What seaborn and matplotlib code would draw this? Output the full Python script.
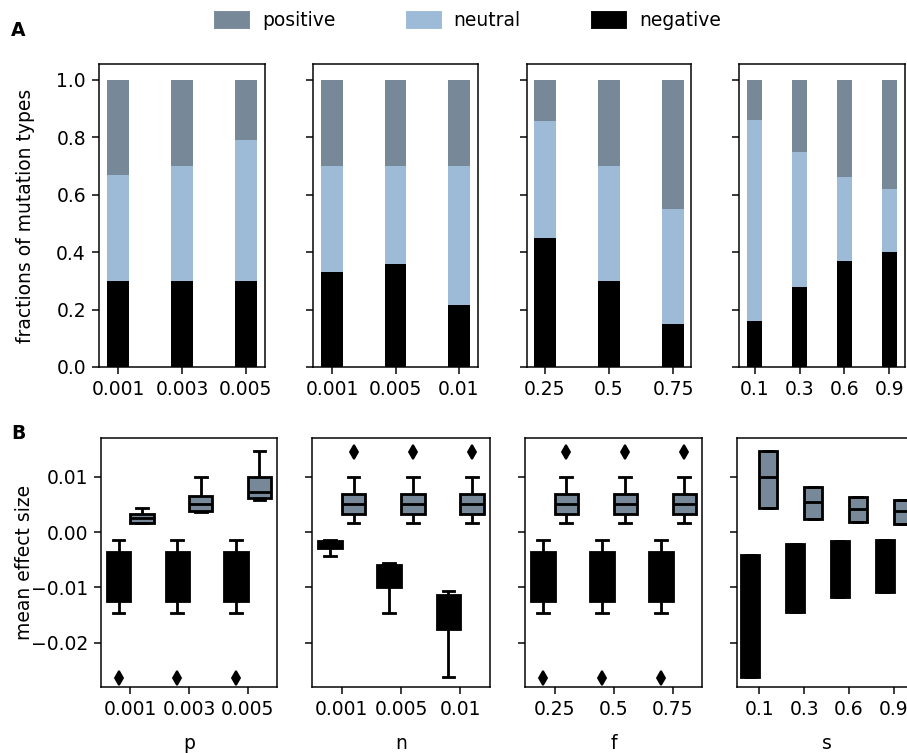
import numpy as np
import pandas as pd
import matplotlib
matplotlib.use("Agg")
import matplotlib.pyplot as plt
from matplotlib.patches import Patch
import seaborn as sns

# ---------------- data: panel A (fractions of mutation types) ----------------
P_LABELS = ["0.001", "0.003", "0.005"]
P_NEGATIVE = [0.30, 0.30, 0.30]
P_NEUTRAL = [0.37, 0.40, 0.49]
P_POSITIVE = [0.33, 0.30, 0.21]

N_LABELS = ["0.001", "0.005", "0.01"]
N_NEGATIVE = [0.33, 0.36, 0.215]
N_NEUTRAL = [0.37, 0.34, 0.485]
N_POSITIVE = [0.30, 0.30, 0.30]

F_LABELS = ["0.25", "0.5", "0.75"]
F_NEGATIVE = [0.45, 0.30, 0.15]
F_NEUTRAL = [0.405, 0.40, 0.40]
F_POSITIVE = [0.145, 0.30, 0.45]

S_LABELS = ["0.1", "0.3", "0.6", "0.9"]
S_NEGATIVE = [0.16, 0.28, 0.37, 0.40]
S_NEUTRAL = [0.70, 0.47, 0.29, 0.22]
S_POSITIVE = [0.14, 0.25, 0.34, 0.38]

# ---------------- data: panel B (mean effect size boxes) ----------------
# five-number summaries per box: (whisker low, Q1, median, Q3, whisker high)
P_NEG_BOX = [(-0.0147, -0.0124, -0.0080, -0.0036, -0.0014)] * 3
P_NEG_OUT = [-0.0264, -0.0264, -0.0264]
P_POS_BOX = [(0.0016, 0.0016, 0.0026, 0.0032, 0.0044),
             (0.0036, 0.0038, 0.0050, 0.0065, 0.0099),
             (0.0058, 0.0062, 0.0073, 0.0099, 0.0147)]
P_POS_OUT = [None, None, None]

N_NEG_BOX = [(-0.0043, -0.0028, -0.0022, -0.0016, -0.0015),
             (-0.0147, -0.0100, -0.0080, -0.0059, -0.0056),
             (-0.0262, -0.0175, -0.0140, -0.0113, -0.0107)]
N_NEG_OUT = [None, None, None]
N_POS_BOX = [(0.0017, 0.0032, 0.0050, 0.0069, 0.0099)] * 3
N_POS_OUT = [0.0145, 0.0145, 0.0145]

F_NEG_BOX = [(-0.0147, -0.0124, -0.0080, -0.0036, -0.0014)] * 3
F_NEG_OUT = [-0.0264, -0.0264, -0.0264]
F_POS_BOX = [(0.0017, 0.0032, 0.0050, 0.0069, 0.0099)] * 3
F_POS_OUT = [0.0145, 0.0145, 0.0145]

S_NEG_BOX = [(-0.0262, -0.0262, -0.0150, -0.0042, -0.0042),
             (-0.0145, -0.0145, -0.0085, -0.0022, -0.0022),
             (-0.0117, -0.0117, -0.0067, -0.0017, -0.0017),
             (-0.0109, -0.0109, -0.0060, -0.0014, -0.0014)]
S_NEG_OUT = [None, None, None, None]
S_POS_BOX = [(0.0044, 0.0044, 0.0099, 0.0147, 0.0147),
             (0.0023, 0.0023, 0.0055, 0.0081, 0.0081),
             (0.0018, 0.0018, 0.0042, 0.0063, 0.0063),
             (0.0015, 0.0015, 0.0038, 0.0058, 0.0058)]
S_POS_OUT = [None, None, None, None]

PARAM_NAMES = ["p", "n", "f", "s"]

COL_POS = "#778899"
COL_NEU = "#9dbbd6"
COL_NEG = "#000000"

plt.rcParams["font.family"] = ["DejaVu Sans"]
plt.rcParams["font.size"] = 10

DPI = 135
fig = plt.figure(figsize=(907 / DPI, 753 / DPI), dpi=DPI)
W, H = 907.0, 753.0


def axes_px(x0, x1, y0, y1):
    return fig.add_axes([x0 / W, 1 - y1 / H, (x1 - x0) / W, (y1 - y0) / H])


# ---------- row A ----------
A_POS = [(99, 265), (313, 478), (527, 691), (739, 905)]
A_TOP, A_BOT = 64, 367
a_data = [
    (P_LABELS, P_NEGATIVE, P_NEUTRAL, P_POSITIVE, 0.30),
    (N_LABELS, N_NEGATIVE, N_NEUTRAL, N_POSITIVE, 0.30),
    (F_LABELS, F_NEGATIVE, F_NEUTRAL, F_POSITIVE, 0.28),
    (S_LABELS, S_NEGATIVE, S_NEUTRAL, S_POSITIVE, 0.35),
]
for i, ((x0, x1), (labels, neg, neu, pos, marg)) in enumerate(zip(A_POS, a_data)):
    ax = axes_px(x0, x1, A_TOP, A_BOT)
    neg = np.array(neg)
    neu = np.array(neu)
    pos = np.array(pos)
    for heights, col in [(neg + neu + pos, COL_POS), (neg + neu, COL_NEU), (neg, COL_NEG)]:
        sns.barplot(x=labels, y=heights, order=labels, color=col, width=0.34,
                    errorbar=None, linewidth=0, saturation=1, ax=ax)
    ax.set_ylim(0, 1.055)
    ax.set_xlim(-marg, len(labels) - 1 + marg)
    ax.set_yticks([0.0, 0.2, 0.4, 0.6, 0.8, 1.0])
    ax.set_xlabel("")
    if i == 0:
        ax.set_ylabel("fractions of mutation types")
        ax.yaxis.set_label_coords((35 - x0) / (x1 - x0), 0.5)
    else:
        ax.set_ylabel("")
        ax.tick_params(labelleft=False)

# ---------- row B ----------
B_POS = [(101, 277), (312, 490), (525, 702), (737, 916)]
B_TOP, B_BOT = 438, 687
b_data = [
    (P_LABELS, P_NEG_BOX, P_NEG_OUT, P_POS_BOX, P_POS_OUT),
    (N_LABELS, N_NEG_BOX, N_NEG_OUT, N_POS_BOX, N_POS_OUT),
    (F_LABELS, F_NEG_BOX, F_NEG_OUT, F_POS_BOX, F_POS_OUT),
    (S_LABELS, S_NEG_BOX, S_NEG_OUT, S_POS_BOX, S_POS_OUT),
]


def samples(stats, out):
    wl, q1, med, q3, wh = stats
    vals = [wl, wl, q1, q1, med, q3, q3, wh, wh]
    if out is not None:
        if out < wl:
            vals[0] = out
        else:
            vals[-1] = out
    return vals


for i, ((x0, x1), (labels, nbox, nout, pbox, pout), pname) in enumerate(
        zip(B_POS, b_data, PARAM_NAMES)):
    ax = axes_px(x0, x1, B_TOP, B_BOT)
    rows = []
    for lab, st, o in zip(labels, nbox, nout):
        for v in samples(st, o):
            rows.append((lab, "negative", v))
    for lab, st, o in zip(labels, pbox, pout):
        for v in samples(st, o):
            rows.append((lab, "positive", v))
    df = pd.DataFrame(rows, columns=["level", "type", "effect"])
    sns.boxplot(data=df, x="level", y="effect", hue="type", order=labels,
                hue_order=["negative", "positive"],
                palette={"negative": COL_NEG, "positive": COL_POS},
                saturation=1, linecolor="black", linewidth=1.5, width=0.8,
                fliersize=5,
                flierprops=dict(marker="d", markerfacecolor="black",
                                markeredgecolor="black"),
                legend=False, ax=ax)
    ax.set_ylim(-0.028, 0.017)
    ax.set_xlim(-0.5, len(labels) - 0.5)
    ax.set_yticks([-0.02, -0.01, 0.0, 0.01])
    ax.set_xlabel(pname, labelpad=8)
    if i == 0:
        ax.set_ylabel("mean effect size")
        ax.yaxis.set_label_coords((34 - x0) / (x1 - x0), 0.5)
    else:
        ax.set_ylabel("")
        ax.tick_params(labelleft=False)

# ---------- legend and panel letters ----------
handles = [Patch(facecolor=COL_POS, edgecolor=COL_POS),
           Patch(facecolor=COL_NEU, edgecolor=COL_NEU),
           Patch(facecolor=COL_NEG, edgecolor=COL_NEG)]
fig.legend(handles, ["positive", "neutral", "negative"], loc="center",
           bbox_to_anchor=(468 / W, 1 - 21 / H), ncol=3, frameon=False,
           handlelength=1.8, handleheight=1.0, handletextpad=0.7,
           columnspacing=3.8)
fig.text(11 / W, 1 - 30 / H, "A", fontweight="bold", ha="left", va="center")
fig.text(11 / W, 1 - 433 / H, "B", fontweight="bold", ha="left", va="center")

fig.savefig("out.png", dpi=DPI)
